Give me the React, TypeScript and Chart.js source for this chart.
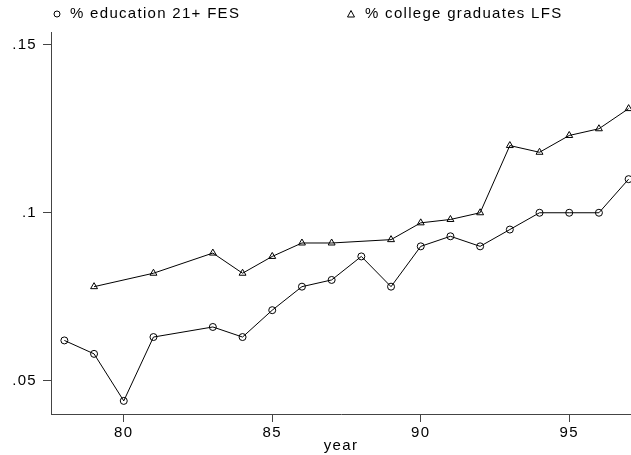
import React, { useEffect, useRef } from "react";
import { Chart, registerables } from "chart.js";
Chart.register(...registerables);

const years = [78, 79, 80, 81, 83, 84, 85, 86, 87, 88, 89, 90, 91, 92, 93, 94, 95, 96, 97];
const fesValues = [0.062, 0.058, 0.044, 0.063, 0.066, 0.063, 0.071, 0.078, 0.080, 0.087, 0.078, 0.090, 0.093, 0.090, 0.095, 0.100, 0.100, 0.100, 0.110];
const lfsYears = [79, 81, 83, 84, 85, 86, 87, 89, 90, 91, 92, 93, 94, 95, 96, 97];
const lfsValues = [0.078, 0.082, 0.088, 0.082, 0.087, 0.091, 0.091, 0.092, 0.097, 0.098, 0.100, 0.120, 0.118, 0.123, 0.125, 0.131];
const xTicks = [80, 85, 90, 95];
const yTicks = [0.05, 0.1, 0.15];
const seriesLabels = ["% education 21+ FES", "% college graduates LFS"];

const FONT = '"Liberation Sans", Arial, sans-serif';
const SIZE = 15;
const SPACING = "1.3px";

export default function App() {
  const ref = useRef<HTMLCanvasElement>(null);
  useEffect(() => {
    const canvas = ref.current!;
    const spacingPlugin = {
      id: "spacing",
      beforeUpdate(chart: any) { chart.ctx.letterSpacing = SPACING; },
      beforeDraw(chart: any) { chart.ctx.letterSpacing = SPACING; },
    };
    const legendPlugin = {
      id: "stataLegend",
      afterDraw(chart: any) {
        const ctx = chart.ctx;
        ctx.save();
        ctx.letterSpacing = SPACING;
        ctx.font = `${SIZE}px ${FONT}`;
        ctx.fillStyle = "#000";
        ctx.strokeStyle = "#000";
        ctx.lineWidth = 1;
        ctx.textBaseline = "middle";
        ctx.beginPath();
        ctx.arc(57, 14, 3, 0, Math.PI * 2);
        ctx.stroke();
        ctx.fillText(seriesLabels[0], 70, 14);
        ctx.beginPath();
        ctx.moveTo(351, 10.5);
        ctx.lineTo(354.5, 17);
        ctx.lineTo(347.5, 17);
        ctx.closePath();
        ctx.stroke();
        ctx.fillText(seriesLabels[1], 365, 14);
        ctx.restore();
      },
    };
    const chart = new Chart(canvas, {
      type: "line",
      data: {
        datasets: [
          {
            label: seriesLabels[0],
            data: years.map((x, i) => ({ x, y: fesValues[i] })),
            borderColor: "#000",
            borderWidth: 1,
            pointStyle: "circle",
            pointRadius: 3.5,
            pointBorderWidth: 1,
            pointBorderColor: "#000",
            pointBackgroundColor: "rgba(255,255,255,0)",
            tension: 0,
          },
          {
            label: seriesLabels[1],
            data: lfsYears.map((x, i) => ({ x, y: lfsValues[i] })),
            borderColor: "#000",
            borderWidth: 1,
            pointStyle: "triangle",
            pointRadius: 4,
            pointBorderWidth: 1,
            pointBorderColor: "#000",
            pointBackgroundColor: "rgba(255,255,255,0)",
            tension: 0,
          },
        ],
      },
      options: {
        animation: false,
        responsive: false,
        maintainAspectRatio: false,
        layout: { autoPadding: false, padding: { top: 32, right: 0, left: 0, bottom: 0 } },
        plugins: { legend: { display: false }, tooltip: { enabled: false } },
        scales: {
          x: {
            type: "linear",
            min: 77.55,
            max: 97.08,
            afterBuildTicks: (s: any) => { s.ticks = xTicks.map((v) => ({ value: v })); },
            afterFit: (s: any) => { s.height = 41; },
            ticks: { color: "#000", font: { family: FONT, size: SIZE }, padding: 2, maxRotation: 0, callback: (v: any) => String(v) },
            grid: { drawOnChartArea: false, tickLength: 8, color: "#444" },
            border: { color: "#444", width: 1 },
            title: { display: true, text: "year", color: "#000", font: { family: FONT, size: SIZE }, padding: { top: 0, bottom: 0 } },
          },
          y: {
            min: 0.0401,
            max: 0.1538,
            afterBuildTicks: (s: any) => { s.ticks = yTicks.map((v) => ({ value: v })); },
            afterFit: (s: any) => { s.width = 51; },
            ticks: { color: "#000", font: { family: FONT, size: SIZE }, padding: 6, callback: (v: any) => String(v).replace(/^0/, "") },
            grid: { drawOnChartArea: false, tickLength: 8, color: "#444" },
            border: { color: "#444", width: 1 },
          },
        },
      },
      plugins: [spacingPlugin, legendPlugin],
    } as any);
    return () => chart.destroy();
  }, []);
  return (
    <div style={{ position: "fixed", left: 0, top: 0, width: 631, height: 455, background: "#fff" }}>
      <canvas ref={ref} width={631} height={455} style={{ display: "block", width: 631, height: 455 }} />
    </div>
  );
}
